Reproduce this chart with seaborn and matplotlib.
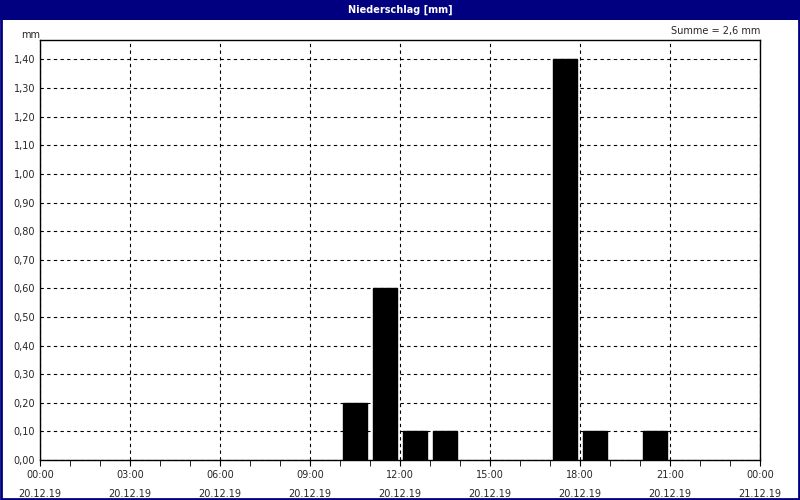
import matplotlib
matplotlib.use("Agg")
import matplotlib.pyplot as plt
import seaborn as sns
import pandas as pd
import numpy as np
from matplotlib.patches import Rectangle

hours = [10.5, 11.5, 12.5, 13.5, 17.5, 18.5, 20.5]
values = [0.2, 0.6, 0.1, 0.1, 1.4, 0.1, 0.1]
xtick_labels = ["00:00\n\n20.12.19", "03:00\n\n20.12.19", "06:00\n\n20.12.19", "09:00\n\n20.12.19",
                "12:00\n\n20.12.19", "15:00\n\n20.12.19", "18:00\n\n20.12.19", "21:00\n\n20.12.19",
                "00:00\n\n21.12.19"]
ytick_vals = [round(0.1 * i, 2) for i in range(15)]
ytick_labels = [f"{v:.2f}".replace(".", ",") for v in ytick_vals]

sns.set_style("white")
plt.rcParams['font.family'] = ['DejaVu Sans']
fig = plt.figure(figsize=(8, 5), dpi=100)
fig.patch.set_facecolor("white")
ax = fig.add_axes([0.05, 0.08, 0.90, 0.84])

df = pd.DataFrame({"h": hours, "v": values})
sns.barplot(data=df, x="h", y="v", native_scale=True, width=0.8, color="black",
            edgecolor="black", saturation=1, ax=ax)
ax.set_xlim(0, 24)
ax.set_ylim(0, 1.468)
ax.set_xticks(np.arange(0, 25, 3))
ax.set_xticklabels(xtick_labels, fontsize=7, linespacing=0.9)
ax.set_xticks(np.arange(0, 25, 1), minor=True)
ax.set_yticks(ytick_vals)
ax.set_yticklabels(ytick_labels, fontsize=7)
ax.tick_params(axis="x", which="both", direction="out", length=4, color="black", bottom=True)
ax.tick_params(axis="y", direction="out", length=0, left=False)
ax.grid(True, which="major", linestyle=(0, (3, 3)), color="black", linewidth=0.8)
ax.set_axisbelow(True)
ax.set_xlabel("")
ax.set_ylabel("")
for s in ax.spines.values():
    s.set_color("black")
    s.set_linewidth(1)
ax.text(-0.005, 1.468, "mm", transform=ax.transData, ha="right", va="bottom", fontsize=7)
ax.text(1.0, 1.01, "Summe = 2,6 mm", transform=ax.transAxes, ha="right", va="bottom", fontsize=7)

fig.patches.append(Rectangle((0, 0.96), 1, 0.04, transform=fig.transFigure,
                             facecolor="#000080", edgecolor="none"))
fig.patches.append(Rectangle((0.001, 0.002), 0.998, 0.996, transform=fig.transFigure,
                             facecolor="none", edgecolor="#000080", linewidth=2))
fig.text(0.5, 0.98, "Niederschlag [mm]", ha="center", va="center", color="white",
         fontsize=7, fontweight="bold")
fig.savefig("out.png", dpi=100)
